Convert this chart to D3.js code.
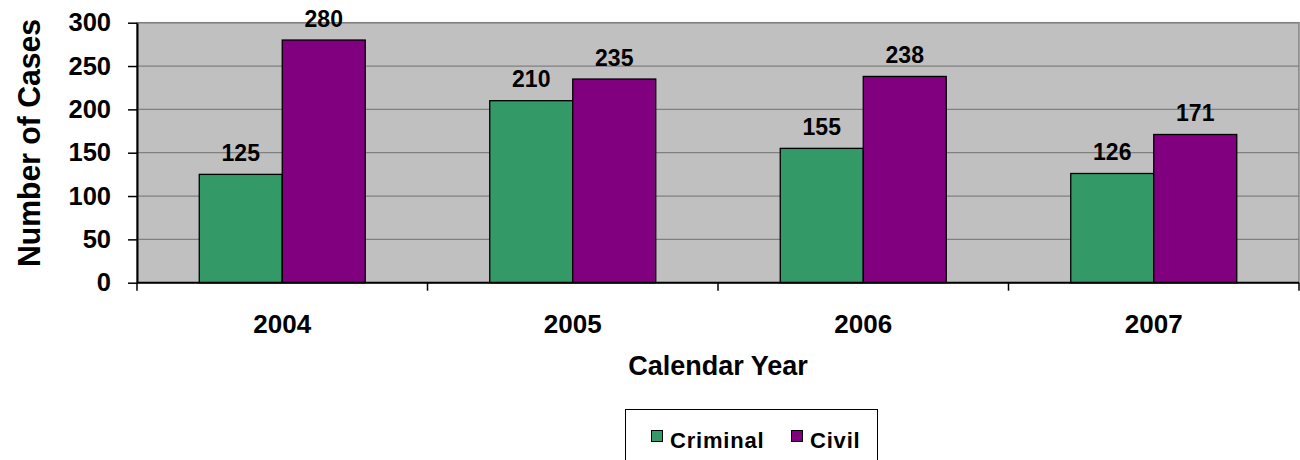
<!DOCTYPE html>
<html>
<head>
<meta charset="utf-8">
<script src="https://cdn.jsdelivr.net/npm/d3@7"></script>
<style>
  html, body { margin: 0; padding: 0; background: #fff; }
  svg { display: block; font-family: "Liberation Sans", Arial, sans-serif; font-weight: bold; }
</style>
</head>
<body>
<svg id="chart" width="1300" height="460"></svg>
<script>
// Cases filed per calendar year
const years = ["2004", "2005", "2006", "2007"];
const seriesNames = ["Criminal", "Civil"];
const criminal = [125, 210, 155, 126];
const civil = [280, 235, 238, 171];
const yTicks = [0, 50, 100, 150, 200, 250, 300];
const seriesColors = ["#339966", "#800080"];

const svg = d3.select("#chart");
const plot = { left: 137, right: 1299, top: 22.7, bottom: 282.7 };

const x = d3.scaleBand().domain(years).range([plot.left, plot.right]).paddingInner(0).paddingOuter(0);
const xs = d3.scaleBand().domain(seriesNames).range([0, x.bandwidth()]).paddingInner(0).paddingOuter(0.75);
const y = d3.scaleLinear().domain([0, 300]).range([plot.bottom, plot.top]);
const color = d3.scaleOrdinal().domain(seriesNames).range(seriesColors);

const rows = years.map((yr, i) => ({ year: yr, values: [
  { name: "Criminal", value: criminal[i] },
  { name: "Civil", value: civil[i] }
]}));

// plot background
svg.append("rect")
  .attr("x", plot.left).attr("y", plot.top)
  .attr("width", plot.right - plot.left).attr("height", plot.bottom - plot.top)
  .attr("fill", "#c0c0c0").attr("stroke", "#808080").attr("stroke-width", 1.5);

// horizontal gridlines
svg.append("g").selectAll("line").data(yTicks.filter(d => d > 0)).join("line")
  .attr("x1", plot.left).attr("x2", plot.right)
  .attr("y1", d => y(d)).attr("y2", d => y(d))
  .attr("stroke", "#808080").attr("stroke-width", 1.2);

// bars
const groups = svg.append("g").selectAll("g").data(rows).join("g")
  .attr("transform", d => `translate(${x(d.year)},0)`);

groups.selectAll("rect").data(d => d.values).join("rect")
  .attr("x", d => xs(d.name)).attr("width", xs.bandwidth())
  .attr("y", d => y(d.value)).attr("height", d => y(0) - y(d.value))
  .attr("fill", d => color(d.name)).attr("stroke", "#000").attr("stroke-width", 1.3);

// value labels
groups.selectAll("text").data(d => d.values).join("text")
  .attr("x", d => xs(d.name) + xs.bandwidth() / 2)
  .attr("y", d => y(d.value) - 13.5)
  .attr("text-anchor", "middle")
  .attr("font-size", 23)
  .attr("fill", "#000")
  .text(d => d.value);

// y axis
const yAxis = svg.append("g")
  .attr("transform", `translate(${plot.left},0)`)
  .call(d3.axisLeft(y).tickValues(yTicks).tickSize(9).tickPadding(17).tickSizeOuter(0));
yAxis.select(".domain").attr("stroke", "#000").attr("stroke-width", 2);
yAxis.selectAll(".tick line").attr("stroke", "#000").attr("stroke-width", 1.5);
yAxis.selectAll(".tick text")
  .attr("font-size", 25.5).attr("font-family", "Liberation Sans, Arial, sans-serif")
  .attr("font-weight", "bold").attr("fill", "#000");

// x axis baseline and category separators
const boundaries = years.map(d => x(d)).concat([plot.right]);
svg.append("line")
  .attr("x1", plot.left).attr("x2", plot.right)
  .attr("y1", plot.bottom).attr("y2", plot.bottom)
  .attr("stroke", "#000").attr("stroke-width", 2);
svg.append("g").selectAll("line").data(boundaries).join("line")
  .attr("x1", d => d).attr("x2", d => d)
  .attr("y1", plot.bottom).attr("y2", plot.bottom + 8)
  .attr("stroke", "#000").attr("stroke-width", 1.5);

svg.append("g").selectAll("text").data(years).join("text")
  .attr("x", d => x(d) + x.bandwidth() / 2)
  .attr("y", 333)
  .attr("text-anchor", "middle")
  .attr("font-size", 26)
  .text(d => d);

// axis titles
svg.append("text")
  .attr("x", (plot.left + plot.right) / 2).attr("y", 375)
  .attr("text-anchor", "middle").attr("font-size", 27)
  .text("Calendar Year");

svg.append("text")
  .attr("transform", `translate(40,143) rotate(-90)`)
  .attr("text-anchor", "middle").attr("font-size", 32)
  .attr("textLength", 248).attr("lengthAdjust", "spacingAndGlyphs")
  .text("Number of Cases");

// legend
const legend = svg.append("g");
legend.append("rect")
  .attr("x", 625.5).attr("y", 409.5).attr("width", 252).attr("height", 80)
  .attr("fill", "#fff").attr("stroke", "#000").attr("stroke-width", 1);

const legendPos = [651, 791];
const items = legend.selectAll("g").data(seriesNames).join("g")
  .attr("transform", (d, i) => `translate(${legendPos[i]},0)`);
items.append("rect")
  .attr("x", 0.5).attr("y", 430.5).attr("width", 11).attr("height", 11)
  .attr("fill", d => color(d)).attr("stroke", "#000").attr("stroke-width", 1);
items.append("text")
  .attr("x", 19).attr("y", 448)
  .attr("font-size", 22).attr("letter-spacing", 0.8)
  .text(d => d);
</script>
</body>
</html>
